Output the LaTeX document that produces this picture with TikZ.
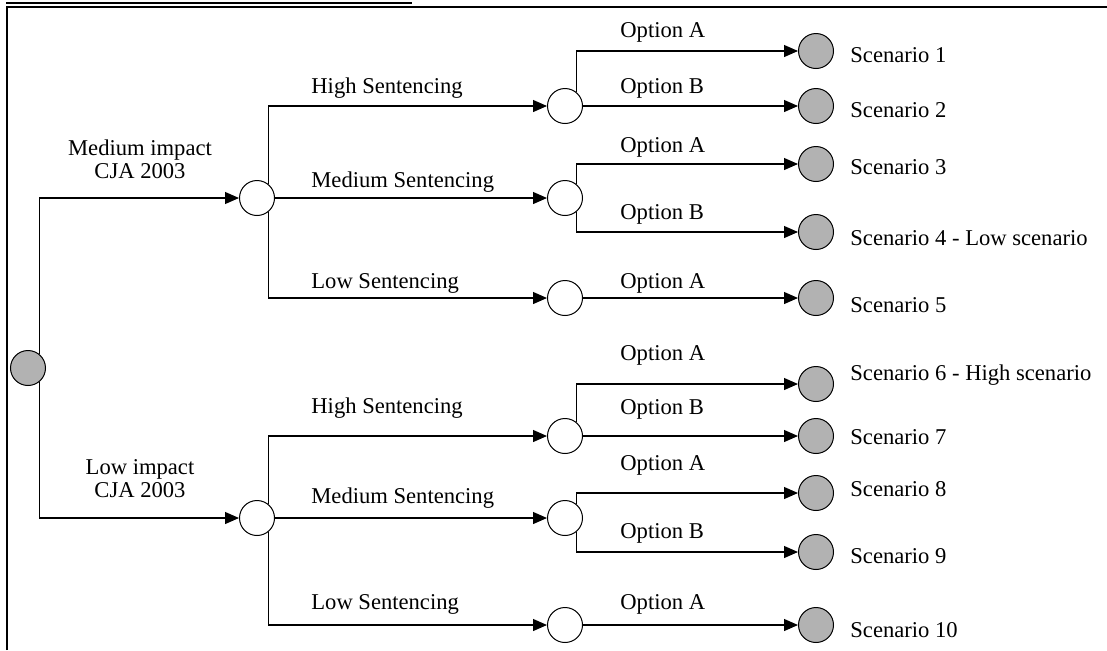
\documentclass[tikz,border=0pt]{standalone}
\usepackage{fontspec}
\setmainfont{Liberation Serif}
\usetikzlibrary{arrows.meta}
\tikzset{
  chance/.style={circle, draw, line width=0.5pt, fill=white, minimum size=17.5pt, inner sep=0pt},
  outcome/.style={chance, fill=black!30},
  conn/.style={draw, line width=0.55pt, -{Triangle[length=7pt,width=6pt]}},
  lbl/.style={anchor=west, inner sep=0pt, font=\fontsize{11.3}{11.5}\selectfont},
}
\begin{document}
\begin{tikzpicture}[x=0.5pt, y=-0.5pt]
  \useasboundingbox (0,0) rectangle (1107,650);
  % frame
  \draw[line width=1pt] (6,3) -- (412,3);
  \draw[line width=1pt] (7,650) -- (7,7) -- (1107,7);
  % chance nodes
  \node [outcome] (root) at (28,368) {};
  \node [chance] (mimp) at (257,198) {};
  \node [chance] (limp) at (257,518) {};
  \node [chance] (mhigh) at (565,106) {};
  \node [chance] (mmed) at (565,198) {};
  \node [chance] (mlow) at (565,298) {};
  \node [chance] (lhigh) at (565,436) {};
  \node [chance] (lmed) at (565,518) {};
  \node [chance] (llow) at (565,625) {};
  % scenarios
  \foreach \n/\y in {1/51,2/106,3/164,4/232,5/298,6/384,7/436,8/493,9/552,10/625}
    \node [outcome] (sc\n) at (816,\y) {};
  % connectors
  \draw[conn] (root.51) |- (mimp);
  \draw[conn] (root.-51) |- (limp);
  \draw[conn] (mimp.51) |- (mhigh);
  \draw[conn] (mimp) -- (mmed);
  \draw[conn] (mimp.-51) |- (mlow);
  \draw[conn] (limp.51) |- (lhigh);
  \draw[conn] (limp) -- (lmed);
  \draw[conn] (limp.-51) |- (llow);
  \draw[conn] (mhigh.51) |- (sc1);
  \draw[conn] (mhigh) -- (sc2);
  \draw[conn] (mmed.51) |- (sc3);
  \draw[conn] (mmed.-51) |- (sc4);
  \draw[conn] (mlow) -- (sc5);
  \draw[conn] (lhigh.51) |- (sc6);
  \draw[conn] (lhigh) -- (sc7);
  \draw[conn] (lmed.51) |- (sc8);
  \draw[conn] (lmed.-51) |- (sc9);
  \draw[conn] (llow) -- (sc10);
  % labels
  \node [lbl, anchor=center, align=center] (tmimp) at (140,159) {Medium impact\\CJA 2003};
  \node [lbl, anchor=center, align=center] (tlimp) at (140,479) {Low impact\\CJA 2003};
  \node [lbl] (tmh) at (311,88) {High Sentencing};
  \node [lbl] (tmm) at (311,182) {Medium Sentencing};
  \node [lbl] (tml) at (311,283) {Low Sentencing};
  \node [lbl] (tlh) at (311,408) {High Sentencing};
  \node [lbl] (tlm) at (311,498) {Medium Sentencing};
  \node [lbl] (tll) at (311,604) {Low Sentencing};
  \node [lbl] (to1) at (620,32) {Option A};
  \node [lbl] (to2) at (620,88) {Option B};
  \node [lbl] (to3) at (620,147) {Option A};
  \node [lbl] (to4) at (620,214) {Option B};
  \node [lbl] (to5) at (620,283) {Option A};
  \node [lbl] (to6) at (620,355) {Option A};
  \node [lbl] (to7) at (620,409) {Option B};
  \node [lbl] (to8) at (620,465) {Option A};
  \node [lbl] (to9) at (620,533) {Option B};
  \node [lbl] (to10) at (620,604) {Option A};
  \node [lbl] (ts1) at (850,55) {Scenario 1};
  \node [lbl] (ts2) at (850,110) {Scenario 2};
  \node [lbl] (ts3) at (850,167) {Scenario 3};
  \node [lbl] (ts4) at (850,238) {Scenario 4 - Low scenario};
  \node [lbl] (ts5) at (850,305) {Scenario 5};
  \node [lbl] (ts6) at (850,375) {Scenario 6 - High scenario};
  \node [lbl] (ts7) at (850,437) {Scenario 7};
  \node [lbl] (ts8) at (850,489) {Scenario 8};
  \node [lbl] (ts9) at (850,556) {Scenario 9};
  \node [lbl] (ts10) at (850,630) {Scenario 10};
\end{tikzpicture}
\end{document}
